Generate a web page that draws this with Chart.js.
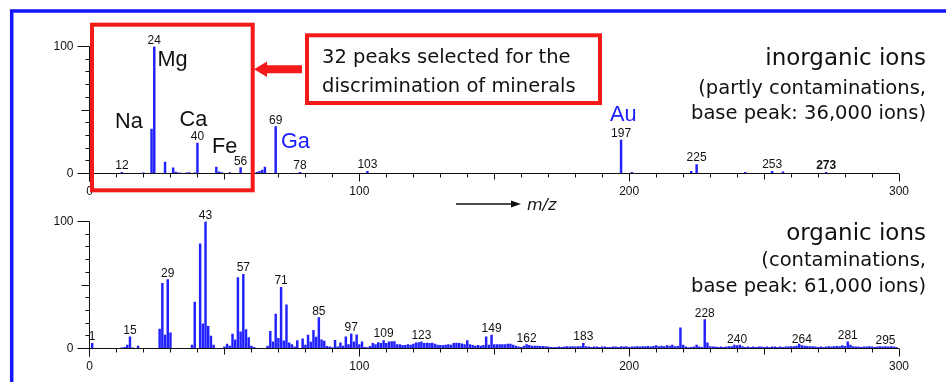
<!DOCTYPE html>
<html>
<head>
<meta charset="utf-8">
<script src="https://cdn.jsdelivr.net/npm/chart.js@4.4.1/dist/chart.umd.min.js"></script>
<style>
    body { margin: 0; background: #fff; width: 946px; height: 382px; overflow: hidden; position: relative; }
    canvas { position: absolute; left: 0; }
    #deco { position: absolute; left: 0; top: 0; pointer-events: none; }
</style>
</head>
<body>
<canvas id="inorganic" width="946" height="200" style="top:0"></canvas>
<canvas id="organic" width="946" height="187" style="top:195px"></canvas>

<svg id="deco" width="946" height="382">
    <!-- blue frame -->
    <path d="M11.7 382 V11 H946" fill="none" stroke="#1414ff" stroke-width="3.5"/>
    <!-- selection box + arrow + callout -->
    <rect x="92" y="24.7" width="160.7" height="165.6" fill="none" stroke="#f41a1a" stroke-width="4"/>
    <polygon points="254,69.3 267,61.5 267,65.3 302,65.3 302,73.3 267,73.3 267,77" fill="#f41a1a"/>
    <rect x="307" y="35.3" width="293" height="67.7" fill="none" stroke="#f41a1a" stroke-width="4"/>
    <g font-family="DejaVu Sans" font-size="19.5" fill="#111">
        <text x="322" y="63">32 peaks selected for the</text>
        <text x="322" y="92">discrimination of minerals</text>
    </g>
    <!-- element names -->
    <g font-family="Liberation Sans" font-size="21.7" fill="#111">
        <text x="115" y="128.3">Na</text>
        <text x="157.5" y="66">Mg</text>
        <text x="179.5" y="125.7">Ca</text>
        <text x="212" y="152.7">Fe</text>
        <text x="281" y="147.7" fill="#1a1aff">Ga</text>
        <text x="610" y="121" fill="#1a1aff">Au</text>
    </g>
    <!-- series captions -->
    <g font-family="DejaVu Sans" fill="#111" text-anchor="end">
        <text x="926" y="65" font-size="23">inorganic ions</text>
        <text x="926" y="94" font-size="19.5">(partly contaminations,</text>
        <text x="926" y="118.5" font-size="19.5">base peak: 36,000 ions)</text>
        <text x="926" y="240" font-size="23">organic ions</text>
        <text x="926" y="266" font-size="19.5">(contaminations,</text>
        <text x="926" y="291.5" font-size="19.5">base peak: 61,000 ions)</text>
    </g>
    <!-- m/z axis arrow -->
    <line x1="456" y1="204" x2="513" y2="204" stroke="#111" stroke-width="1.3"/>
    <polygon points="521,204 511,200.5 511,207.5" fill="#111"/>
    <text x="527" y="209.5" font-family="DejaVu Sans" font-style="italic" font-size="16" fill="#111">m/z</text>
</svg>

<script>
// Inorganic spectrum (relative intensity, %)
const inorgMz  = [12, 20, 23, 24, 28, 31, 32, 33, 34, 36, 37, 39, 40, 47, 48, 49, 52, 56, 62, 63, 64, 65, 69, 78, 103, 197, 201, 223, 225, 243, 253, 257, 273];
const inorgInt = [1, 0.5, 35, 100, 9, 4.5, 1.2, 0.5, 0.4, 0.5, 0.8, 0.6, 24, 5, 1.3, 0.8, 0.8, 4.7, 1, 1.8, 2.6, 5, 37, 1, 1.8, 26.3, 1, 1.8, 7.1, 1, 1.8, 1.3, 1];
const inorgLabels = [12, 24, 40, 56, 69, 78, 103, 197, 225, 253, 273];
const inorgBold = [273];

// Organic spectrum (relative intensity, %)
const orgMz = [
    1, 12, 13, 14, 15, 16, 18,
    26, 27, 28, 29, 30,
    38, 39, 41, 42, 43, 44, 45, 46,
    50, 51, 52, 53, 54, 55, 56, 57, 58, 59, 60, 61,
    66, 67, 68, 69, 70, 71, 72, 73, 74, 75, 76, 77,
    79, 80, 81, 82, 83, 84, 85, 86, 87, 88,
    89, 90, 91, 92, 93, 94, 95, 96, 97, 98,
    99, 100, 101, 102, 103, 104, 105, 106, 107, 108,
    109, 110, 111, 112, 113, 114, 115, 116, 117, 118,
    119, 120, 121, 122, 123, 124, 125, 126, 127, 128,
    129, 130, 131, 132, 133, 134, 135, 136, 137, 138,
    139, 140, 141, 142, 143, 144, 145, 146, 147, 148,
    149, 150, 151, 152, 153, 154, 155, 156, 157, 158,
    159, 160, 161, 162, 163, 164, 165, 166, 167, 168,
    169, 170, 171, 172, 173, 174, 175, 176, 177, 178,
    179, 180, 181, 182, 183, 184, 185, 186, 187, 188,
    189, 190, 191, 192, 193, 194, 195, 196, 197, 198,
    199, 200, 201, 202, 203, 204, 205, 206, 207, 208,
    209, 210, 211, 212, 213, 214, 215, 216, 217, 218,
    219, 220, 221, 222, 223, 224, 225, 226, 227, 228,
    229, 230, 231, 232, 233, 234, 235, 236, 237, 238,
    239, 240, 241, 242, 243, 244, 245, 246, 247, 248,
    249, 250, 251, 252, 253, 254, 255, 256, 257, 258,
    259, 260, 261, 262, 263, 264, 265, 266, 267, 268,
    269, 270, 271, 272, 273, 274, 275, 276, 277, 278,
    279, 280, 281, 282, 283, 284, 285, 286, 287, 288,
    289, 290, 291, 292, 293, 294, 295, 296, 297, 298, 299
];
const orgInt = [
    4, 0.5, 1, 2.6, 9.2, 0.5, 2,
    15.2, 51.3, 10.5, 54.2, 12.3,
    2.6, 36.6, 82.5, 19.4, 100, 17.5, 9.7, 2.6,
    1.3, 3.4, 2, 11.3, 6.8, 55.8, 13.1, 58.4, 14.9, 8.6, 2, 1,
    2, 13.6, 5.2, 27.2, 8.1, 48.2, 6, 34.3, 4.5, 3.1, 1.3, 6.3,
    7.6, 2.6, 10.5, 5, 14.4, 8.9, 24.3, 6.8, 5.8, 1.8,
    1.3, 0.8, 6.5, 1.3, 4.5, 2, 9.2, 3.1, 11.5, 5.2,
    10.7, 3.1, 5.2, 1, 0.8, 1.8, 4, 3, 4.7, 4,
    6.3, 4, 5.2, 5.5, 5.5, 3, 3, 2.4, 2.4, 3,
    2.6, 3.4, 4.5, 4.7, 5.2, 4, 4.2, 4, 4.2, 3.4,
    2.6, 2.4, 2.4, 2.6, 3, 2.6, 4, 4.2, 4, 3.7,
    3.1, 6.3, 3, 2.4, 2, 2.4, 2, 2.4, 9.2, 2.6,
    10.5, 3, 3, 3, 3, 3, 3.4, 3.4, 2.6, 2,
    1.3, 1, 2, 3, 2.4, 2, 2, 2, 1.8, 1.8,
    1.5, 1.3, 1, 1, 1, 1.3, 1, 1.3, 1.5, 1.3,
    1.5, 1.3, 1.5, 1.5, 4, 1.5, 1.3, 1, 1.3, 1.3,
    1, 1.3, 1.3, 1, 1, 1.3, 1.3, 1, 1.5, 1.3,
    1.5, 1, 1.3, 1.3, 1.5, 1.3, 1.5, 1.5, 1.8, 1.3,
    1.8, 2.3, 1.5, 2, 1.5, 2.3, 2, 2.6, 1.5, 1.8,
    16.2, 2.6, 1.3, 0.8, 1, 1.3, 2.6, 1.3, 1, 22.8,
    4.5, 1.5, 1.3, 1.3, 1, 1.3, 1, 1.3, 1.5, 1.5,
    2.6, 2.3, 2.6, 1.5, 1, 1.3, 1, 1.3, 1, 1.3,
    1.3, 1, 1.3, 1, 1.3, 1.3, 1, 1.3, 1, 1.3,
    1.3, 1.5, 1.5, 2, 3.4, 2.3, 2, 1.8, 1.5, 1.5,
    1.3, 1, 1.3, 1, 1.3, 1.5, 1.3, 1.5, 1.8, 1.5,
    2.3, 1.8, 5.2, 2.6, 1.5, 1.3, 1.3, 1, 1.3, 1.3,
    1.5, 1.3, 1, 1.3, 1.5, 1.3, 1.5, 1.3, 1.5, 1.3, 1
];
const orgLabels = [1, 15, 29, 43, 57, 71, 85, 97, 109, 123, 149, 162, 183, 228, 240, 264, 281, 295];

// Axis ticks
const xTickLabels = [0, 100, 200, 300];
const yTickLabels = [0, 100];

const BLUE = '#2222ff';
const INK = '#111';

// Axes, ticks and peak labels drawn from the chart's own scales
const spectrumAxes = {
    id: 'spectrumAxes',
    afterDatasetsDraw(chart, args, opts) {
        const { ctx, scales: { x, y } } = chart;
        const x0 = x.getPixelForValue(0);
        const y0 = y.getPixelForValue(0);
        ctx.save();
        ctx.strokeStyle = INK;
        ctx.lineWidth = 1;
        ctx.beginPath();
        ctx.moveTo(x0, y.getPixelForValue(100));
        ctx.lineTo(x0, y0 + 8);
        ctx.moveTo(x0, y0);
        ctx.lineTo(x.getPixelForValue(300), y0);
        for (let v = 0; v <= 300; v += 10) {
            const len = v % 100 === 0 ? 8 : v % 50 === 0 ? 6 : 4;
            const px = Math.round(x.getPixelForValue(v) - 0.5) + 0.5;
            ctx.moveTo(px, y0);
            ctx.lineTo(px, y0 + len);
        }
        for (let v = 0; v <= 100; v += 10) {
            const len = v % 100 === 0 ? 12 : v === 50 ? 8 : 4;
            const py = Math.round(y.getPixelForValue(v) - 0.5) + 0.5;
            ctx.moveTo(x0, py);
            ctx.lineTo(x0 - len, py);
        }
        ctx.stroke();

        ctx.fillStyle = INK;
        ctx.font = '12px "Liberation Sans", Arial, sans-serif';
        ctx.textAlign = 'center';
        ctx.textBaseline = 'middle';
        xTickLabels.forEach(v => ctx.fillText(String(v), x.getPixelForValue(v), y0 + 18));
        ctx.textAlign = 'right';
        yTickLabels.forEach(v => ctx.fillText(String(v), x0 - 16, y.getPixelForValue(v)));

        // peak labels
        ctx.textAlign = 'center';
        ctx.textBaseline = 'alphabetic';
        opts.labels.forEach(m => {
            const i = opts.mz.indexOf(m);
            const val = i >= 0 ? opts.vals[i] : 0;
            ctx.font = (opts.bold.includes(m) ? 'bold ' : '') + '12px "Liberation Sans", Arial, sans-serif';
            ctx.fillText(String(m), x.getPixelForValue(m), y.getPixelForValue(val) - 3);
        });
        ctx.restore();
    }
};

function makeSpectrum(id, mz, vals, labels, bold, padding) {
    return new Chart(document.getElementById(id), {
        type: 'bar',
        data: {
            datasets: [{
                data: mz.map((m, i) => ({ x: m, y: vals[i] })),
                backgroundColor: BLUE,
                borderWidth: 0,
                barThickness: 1.8
            }]
        },
        options: {
            responsive: false,
            animation: false,
            devicePixelRatio: 1,
            layout: { padding },
            plugins: {
                legend: { display: false },
                tooltip: { enabled: false },
                spectrumAxes: { mz, vals, labels, bold }
            },
            scales: {
                x: { type: 'linear', min: 0, max: 300, offset: false, display: false, grid: { offset: false } },
                y: { min: 0, max: 100, display: false }
            }
        },
        plugins: [spectrumAxes]
    });
}

makeSpectrum('inorganic', inorgMz, inorgInt, inorgLabels, inorgBold,
    { left: 89.5, right: 47, top: 46.5, bottom: 26.5 });
makeSpectrum('organic', orgMz, orgInt, orgLabels, [],
    { left: 89.5, right: 47, top: 26.5, bottom: 33.5 });
</script>
</body>
</html>
